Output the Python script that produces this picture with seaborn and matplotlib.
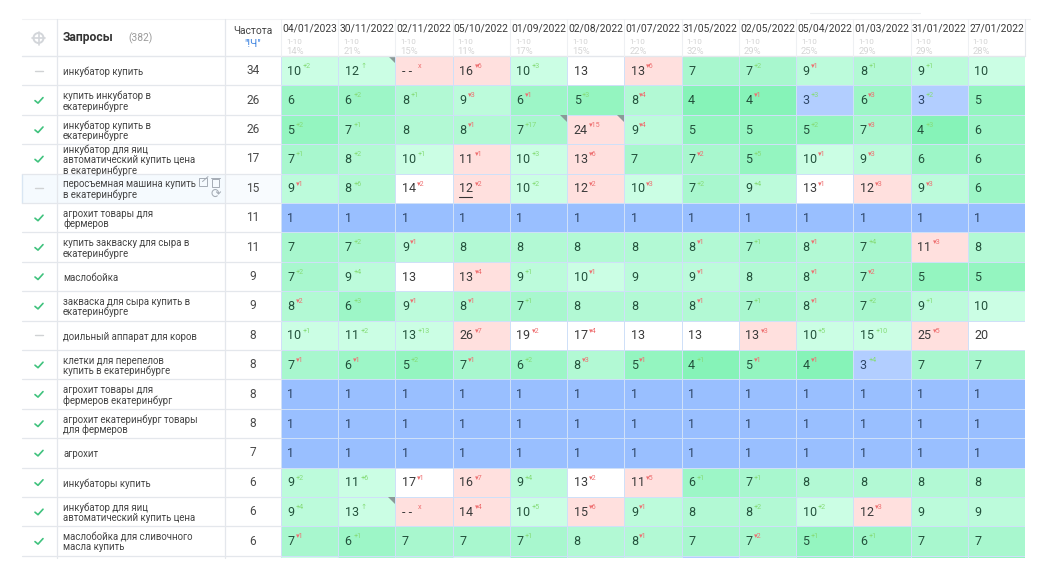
import matplotlib
matplotlib.use("Agg")
import matplotlib.pyplot as plt
import seaborn as sns
import numpy as np
from matplotlib.colors import ListedColormap
from matplotlib.patches import Circle, Polygon, Rectangle

dates = ["04/01/2023", "30/11/2022", "02/11/2022", "05/10/2022", "01/09/2022", "02/08/2022", "01/07/2022",
         "31/05/2022", "02/05/2022", "05/04/2022", "01/03/2022", "31/01/2022", "27/01/2022"]
top10_share = [14, 21, 15, 11, 17, 15, 22, 32, 29, 25, 29, 29, 28]

queries = [
    "инкубатор купить",
    "купить инкубатор в\nекатеринбурге",
    "инкубатор купить в\nекатеринбурге",
    "инкубатор для яиц\nавтоматический купить цена\nв екатеринбурге",
    "перосъемная машина купить\nв екатеринбурге",
    "агрохит товары для\nфермеров",
    "купить закваску для сыра в\nекатеринбурге",
    "маслобойка",
    "закваска для сыра купить в\nекатеринбурге",
    "доильный аппарат для коров",
    "клетки для перепелов\nкупить в екатеринбурге",
    "агрохит товары для\nфермеров екатеринбург",
    "агрохит екатеринбург товары\nдля фермеров",
    "агрохит",
    "инкубаторы купить",
    "инкубатор для яиц\nавтоматический купить цена",
    "маслобойка для сливочного\nмасла купить",
]
frequency = [34, 26, 26, 17, 15, 11, 11, 9, 9, 8, 8, 8, 8, 7, 6, 6, 6]
in_top = [0, 1, 1, 1, 0, 1, 1, 1, 1, 0, 1, 1, 1, 1, 1, 1, 1]

# None = not found ("--")
ranks = [
    [10, 12, None, 16, 10, 13, 13, 7, 7, 9, 8, 9, 10],
    [6, 6, 8, 9, 6, 5, 8, 4, 4, 3, 6, 3, 5],
    [5, 7, 8, 8, 7, 24, 9, 5, 5, 5, 7, 4, 6],
    [7, 8, 10, 11, 10, 13, 7, 7, 5, 10, 9, 6, 6],
    [9, 8, 14, 12, 10, 12, 10, 7, 9, 13, 12, 9, 6],
    [1] * 13,
    [7, 7, 9, 8, 8, 8, 8, 8, 7, 8, 7, 11, 8],
    [7, 9, 13, 13, 9, 10, 9, 9, 8, 8, 7, 5, 5],
    [8, 6, 9, 8, 7, 8, 8, 8, 7, 8, 7, 9, 10],
    [10, 11, 13, 26, 19, 17, 13, 13, 13, 10, 15, 25, 20],
    [7, 6, 5, 7, 6, 8, 5, 4, 5, 4, 3, 7, 7],
    [1] * 13,
    [1] * 13,
    [1] * 13,
    [9, 11, 17, 16, 9, 13, 11, 6, 7, 8, 8, 8, 8],
    [9, 13, None, 14, 10, 15, 9, 8, 8, 10, 12, 9, 9],
    [7, 6, 7, 7, 7, 8, 8, 7, 7, 5, 6, 7, 7],
]
changes = [
    ["+2", "↑", "x", "-6", "+3", "", "-6", "", "+2", "-1", "+1", "+1", ""],
    ["", "+2", "+1", "-3", "-1", "+3", "-4", "", "-1", "+3", "-3", "+2", ""],
    ["+2", "+1", "", "-1", "+17", "-15", "-4", "", "", "+2", "-3", "+3", ""],
    ["+1", "+2", "+1", "-1", "+3", "-6", "", "-2", "+5", "-1", "-3", "", ""],
    ["-1", "+6", "-2", "-2", "+2", "-2", "-3", "+2", "+4", "-1", "-3", "-3", ""],
    [""] * 13,
    ["", "+2", "-1", "", "", "", "", "-1", "+1", "-1", "+4", "-3", ""],
    ["+2", "+4", "", "-4", "+1", "-1", "", "-1", "", "-1", "-2", "", ""],
    ["-2", "+3", "-1", "-1", "+1", "", "", "-1", "+1", "-1", "+2", "+1", ""],
    ["+1", "+2", "+13", "-7", "-2", "-4", "", "", "-3", "+5", "+10", "-5", ""],
    ["-1", "-1", "+2", "-1", "+2", "-3", "-1", "+1", "-1", "-1", "+4", "", ""],
    [""] * 13,
    [""] * 13,
    [""] * 13,
    ["+2", "+6", "-1", "-7", "+4", "-2", "-5", "+1", "+1", "", "", "", ""],
    ["+4", "↑", "x", "-4", "+5", "-6", "-1", "", "+2", "+2", "-3", "", ""],
    ["-1", "+1", "", "", "+1", "", "-1", "", "-2", "+1", "+1", "", ""],
]
# next row, only a sliver of it is visible at the bottom edge
cut_row = [10, 7, 8, 10, 6, 8, 9, 3, 8, 5, 6, 5, 5]

# colours for rank 1..10, then white / pink / light green
rank_colors = ["#99bfff", "#a6c7ff", "#b2ceff", "#86f3b8", "#94f5c0", "#9df6c7", "#a8f7ce", "#b2f9d4", "#bcfbdb", "#cbfee4"]
WHITE, PINK, LIGHT = 10, 11, 9
cell_cmap = ListedColormap(rank_colors + ["#ffffff", "#ffe0de"])


def tone(rank, change):
    if rank is None or change == "x":
        return PINK
    if rank <= 10:
        return rank - 1
    if change == "↑" or change.startswith("+"):
        return LIGHT
    if change.startswith("-"):
        before = rank + int(change)
        # fell out of the top 10 / top 20
        if before <= 10 or (before <= 20 < rank):
            return PINK
    return WHITE


tones = [[tone(r, c) for r, c in zip(rr, cc)] for rr, cc in zip(ranks, changes)]
tones.append([tone(r, "") for r in cut_row])

sns.set_theme(style="white")
plt.rcParams["font.family"] = ["Roboto", "DejaVu Sans"]

W, H = 1039, 568
fig = plt.figure(figsize=(W / 100, H / 100), dpi=100)
LEFT, RIGHT, TOP, BOTTOM = 281, 1025, 56, 558
ROW_H = 29.4
COL_W = (RIGHT - LEFT) / 13

# page layer in pixels: table frame, left columns, header
page = fig.add_axes([0, 0, 1, 1], zorder=3)
page.set_xlim(0, W)
page.set_ylim(H, 0)
page.axis("off")
page.patch.set_alpha(0)

ax = fig.add_axes([LEFT / W, 1 - BOTTOM / H, (RIGHT - LEFT) / W, (BOTTOM - TOP) / H], zorder=2)
sns.heatmap(np.array(tones), cmap=cell_cmap, vmin=-0.5, vmax=11.5, cbar=False, linewidths=0.5,
            linecolor="#cfe0f8", xticklabels=False, yticklabels=False, ax=ax)
ax.set_ylim((BOTTOM - TOP) / ROW_H, 0)
ax.set_xlim(0, 13)

text_colors = {"blue": "#2e4668", "green": "#23513c", "plain": "#3a3a3a"}
for i, (rr, cc) in enumerate(zip(ranks, changes)):
    for j, (rank, change) in enumerate(zip(rr, cc)):
        label = "- -" if rank is None else str(rank)
        t = tones[i][j]
        col = text_colors["blue"] if t <= 2 else text_colors["green"] if t <= 9 else text_colors["plain"]
        x = j + 6.5 / COL_W
        ax.text(x, i + 0.52, label, fontsize=9, color=col, va="center", ha="left")
        end = x + (2 if rank is None else len(str(rank))) * 7 / COL_W
        if rank == 12 and i == 4 and j == 3:
            ax.plot([x, end - 1 / COL_W], [i + 0.78, i + 0.78], color="#333333", lw=0.8)
        if change:
            shown = change.replace("-", "▾")
            ch_col = "#ee6f70" if change[0] in "-x" else "#86dc78"
            ax.text(end + 1.5 / COL_W, i + 0.36, shown, fontsize=5.2, color=ch_col, va="center", ha="left")
        if change == "↑" or (i, j) in [(2, 4), (2, 5)]:
            page.add_patch(Polygon([(LEFT + (j + 1) * COL_W - 7, TOP + i * ROW_H),
                                    (LEFT + (j + 1) * COL_W, TOP + i * ROW_H),
                                    (LEFT + (j + 1) * COL_W, TOP + i * ROW_H + 7)],
                                   color="#8a9a98", lw=0))

# header
line_col = "#e4e7ec"
page.plot([22, RIGHT + 5], [19, 19], color="#f1f2f4", lw=0.8)
page.plot([810, 920], [13, 13], color="#eceef0", lw=0.8)
page.plot([22, RIGHT], [56, 56], color=line_col, lw=1)
for j, (d, share) in enumerate(zip(dates, top10_share)):
    x0 = LEFT + j * COL_W
    page.plot([x0, x0], [19, 56], color="#eef0f3", lw=0.8)
    page.text(x0 + COL_W / 2, 29, d, fontsize=7.4, color="#3a3a3a", ha="center", va="center")
    page.text(x0 + 5, 42.5, "1-10", fontsize=5.8, color="#d2d2d2", va="center")
    page.text(x0 + 5, 51, f"{share}%", fontsize=6.8, color="#d6d6d6", va="center")
page.plot([RIGHT, RIGHT], [19, 56], color=line_col, lw=0.8)

page.add_patch(Circle((38.5, 38), 5, fill=False, ec="#d3d6da", lw=1.4))
page.plot([32, 45], [38, 38], color="#d3d6da", lw=1.2)
page.plot([38.5, 38.5], [31.5, 44.5], color="#d3d6da", lw=1.2)
page.text(63, 38, "Запросы", fontsize=8.7, fontweight="bold", color="#333333", va="center")
page.text(128, 38, "(382)", fontsize=7.4, color="#9a9a9a", va="center")
page.text(253, 31, "Частота", fontsize=7.4, color="#444444", ha="center", va="center")
page.text(253, 44, '"!Ч"', fontsize=7.5, color="#3b82e0", ha="center", va="center")

# hovered row
page.add_patch(Rectangle((22, TOP + 4 * ROW_H), 203, ROW_H, color="#f5fafe", lw=0, zorder=0))
page.add_patch(Rectangle((225, TOP + 4 * ROW_H), 56, ROW_H, color="#f8fbfe", lw=0, zorder=0))
page.plot([22, 22], [TOP + 4 * ROW_H, TOP + 5 * ROW_H], color="#d9e6f3", lw=1)

# left columns
for i, q in enumerate(queries):
    y_mid = TOP + (i + 0.5) * ROW_H
    page.plot([22, LEFT], [TOP + (i + 1) * ROW_H] * 2, color=line_col, lw=0.9)
    if in_top[i]:
        page.plot([35, 38, 43], [y_mid + 0.5, y_mid + 3, y_mid - 2.5], color="#3fc27d", lw=1.2)
    else:
        page.plot([34.5, 43], [y_mid, y_mid], color="#d0d2d4", lw=1)
    page.text(63, y_mid + 1.2, q, fontsize=6.9, color="#444444", va="center", linespacing=1.02)
    page.text(253, y_mid, str(frequency[i]), fontsize=8.6, color="#4a4a4a", ha="center", va="center")
page.plot([57, 57], [19, 558], color=line_col, lw=0.9)
page.plot([225, 225], [19, 558], color=line_col, lw=0.9)

# row action icons
y5 = TOP + 4 * ROW_H
page.add_patch(Rectangle((198.5, y5 + 4), 8, 8, fill=False, ec="#a5acb5", lw=0.7))
page.plot([202.5, 208], [y5 + 8, y5 + 3], color="#a5acb5", lw=0.7)
page.add_patch(Rectangle((212, y5 + 5), 7, 8, fill=False, ec="#a5acb5", lw=0.7))
page.plot([211, 220], [y5 + 4.5, y5 + 4.5], color="#a5acb5", lw=0.7)
page.text(216, y5 + 21, "⟳", fontsize=9, color="#a5acb5", ha="center", va="center")

plt.savefig("out.png", dpi=100)
plt.close()
